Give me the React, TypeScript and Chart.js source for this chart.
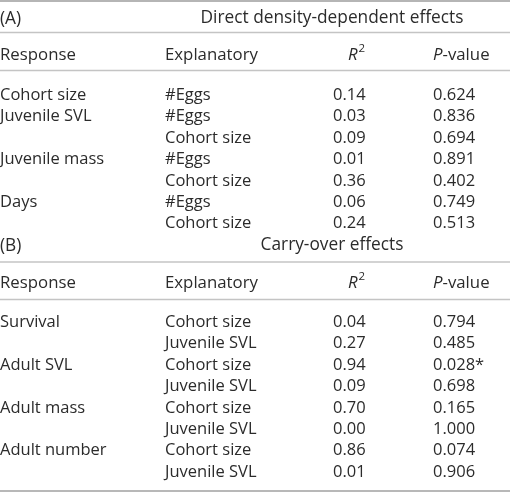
import React, { useEffect, useRef } from "react";
import { Chart, registerables } from "chart.js";

Chart.register(...registerables);

// ---- data ----
const panelLabels = ["(A)", "(B)"];
const panelTitles = ["Direct density-dependent effects", "Carry-over effects"];
const headerLabels = ["Response", "Explanatory", "R", "P"];

const responseA = ["Cohort size", "Juvenile SVL", "", "Juvenile mass", "", "Days", ""];
const explanatoryA = ["#Eggs", "#Eggs", "Cohort size", "#Eggs", "Cohort size", "#Eggs", "Cohort size"];
const r2A = [0.14, 0.03, 0.09, 0.01, 0.36, 0.06, 0.24];
const pA = [0.624, 0.836, 0.694, 0.891, 0.402, 0.749, 0.513];

const responseB = ["Survival", "", "Adult SVL", "", "Adult mass", "", "Adult number", ""];
const explanatoryB = ["Cohort size", "Juvenile SVL", "Cohort size", "Juvenile SVL", "Cohort size", "Juvenile SVL", "Cohort size", "Juvenile SVL"];
const r2B = [0.04, 0.27, 0.94, 0.09, 0.70, 0.00, 0.86, 0.01];
const pB = [0.794, 0.485, 0.028, 0.698, 0.165, 1.0, 0.074, 0.906];

// ---- layout (scale units) ----
const COL_X = { resp: 0, expl: 165, r2: 333, r2h: 348, p: 433, title: 332 };
const PITCH = 21.45;
const PANEL_A = { top: 1, title: 18.5, line1: 32.5, header: 55, line2: 70.5, rows: 95 };
const PANEL_B = { title: 245.2, line1: 262, header: 283, line2: 299.5, rows: 322 };
const BOTTOM = 491;

const FONT = '"Open Sans", "Noto Sans", sans-serif';
const BODY_SIZE = 16.5;
const HEAD_SIZE = 16.8;
const TITLE_SIZE = 17.3;
const TEXT = "#2b2b2b";

type Cell = { x: number; y: number; text: string; kind: string };

function buildCells(): { cells: Cell[]; rules: { y: number; c: string; w: number }[] } {
  const cells: Cell[] = [];
  const rules: { y: number; c: string; w: number }[] = [];
  const panels = [
    { lay: PANEL_A, resp: responseA, expl: explanatoryA, r2: r2A, p: pA },
    { lay: PANEL_B, resp: responseB, expl: explanatoryB, r2: r2B, p: pB },
  ];
  panels.forEach((pn, i) => {
    const L = pn.lay as any;
    if (L.top !== undefined) rules.push({ y: L.top, c: "#b5b5b5", w: 2 });
    cells.push({ x: COL_X.resp, y: L.title, text: panelLabels[i], kind: "titleleft" });
    cells.push({ x: COL_X.title, y: L.title, text: panelTitles[i], kind: "center" });
    rules.push({ y: L.line1, c: "#c4c4c4", w: 1.5 });
    cells.push({ x: COL_X.resp, y: L.header, text: headerLabels[0], kind: "headleft" });
    cells.push({ x: COL_X.expl, y: L.header, text: headerLabels[1], kind: "headleft" });
    cells.push({ x: COL_X.r2h, y: L.header, text: headerLabels[2], kind: "r2" });
    cells.push({ x: COL_X.p, y: L.header, text: headerLabels[3], kind: "pval" });
    rules.push({ y: L.line2, c: "#c4c4c4", w: 1.5 });
    pn.expl.forEach((e, k) => {
      const y = L.rows + k * PITCH;
      if (pn.resp[k]) cells.push({ x: COL_X.resp, y, text: pn.resp[k], kind: "left" });
      cells.push({ x: COL_X.expl, y, text: e, kind: "left" });
      cells.push({ x: COL_X.r2, y, text: pn.r2[k].toFixed(2), kind: "left" });
      cells.push({ x: COL_X.p, y, text: pn.p[k].toFixed(3) + (pn.p[k] < 0.05 ? "*" : ""), kind: "left" });
    });
  });
  rules.push({ y: BOTTOM, c: "#a0a0a0", w: 1.5 });
  return { cells, rules };
}

const tablePlugin = {
  id: "tableText",
  afterDatasetsDraw(chart: any) {
    const ctx = chart.ctx as CanvasRenderingContext2D;
    const xs = chart.scales.x;
    const ys = chart.scales.y;
    const rules = chart.options.plugins.tableText.rules as { y: number; c: string; w: number }[];
    ctx.save();
    rules.forEach((r) => {
      const py = ys.getPixelForValue(r.y);
      ctx.strokeStyle = r.c;
      ctx.lineWidth = r.w;
      ctx.beginPath();
      ctx.moveTo(xs.getPixelForValue(0), py);
      ctx.lineTo(xs.getPixelForValue(510), py);
      ctx.stroke();
    });
    const meta = chart.getDatasetMeta(0);
    const ds = chart.data.datasets[0];
    ctx.fillStyle = TEXT;
    ctx.textBaseline = "middle";
    meta.data.forEach((el: any, i: number) => {
      const raw = ds.data[i] as Cell;
      const x = el.x;
      const y = el.y;
      if (raw.kind === "center") {
        ctx.font = `${TITLE_SIZE}px ${FONT}`;
        ctx.textAlign = "center";
        ctx.fillText(raw.text, x, y);
      } else if (raw.kind === "r2") {
        ctx.textAlign = "left";
        ctx.font = `italic ${HEAD_SIZE}px ${FONT}`;
        ctx.fillText(raw.text, x, y);
        const w = ctx.measureText(raw.text).width;
        ctx.font = `11.5px ${FONT}`;
        ctx.fillText("2", x + w + 1, y - 6);
      } else if (raw.kind === "pval") {
        ctx.textAlign = "left";
        ctx.font = `italic ${HEAD_SIZE}px ${FONT}`;
        ctx.fillText(raw.text, x, y);
        const w = ctx.measureText(raw.text).width;
        ctx.font = `${HEAD_SIZE}px ${FONT}`;
        ctx.fillText("-value", x + w, y);
      } else if (raw.kind === "headleft") {
        ctx.font = `${HEAD_SIZE}px ${FONT}`;
        ctx.textAlign = "left";
        ctx.fillText(raw.text, x, y);
      } else if (raw.kind === "titleleft") {
        ctx.font = `${TITLE_SIZE}px ${FONT}`;
        ctx.textAlign = "left";
        ctx.fillText(raw.text, x, y + 1);
      } else {
        ctx.font = `${BODY_SIZE}px ${FONT}`;
        ctx.textAlign = "left";
        ctx.fillText(raw.text, x, y);
      }
    });
    ctx.restore();
  },
};

export default function App() {
  const ref = useRef<HTMLCanvasElement | null>(null);
  useEffect(() => {
    document.body.style.margin = "0";
    const { cells, rules } = buildCells();
    const chart = new Chart(ref.current as HTMLCanvasElement, {
      type: "scatter",
      data: {
        datasets: [
          {
            data: cells as any,
            pointRadius: 0,
            pointHoverRadius: 0,
            parsing: { xAxisKey: "x", yAxisKey: "y" } as any,
          },
        ],
      },
      options: {
        responsive: false,
        maintainAspectRatio: false,
        animation: false,
        events: [],
        layout: { padding: 0 },
        scales: {
          x: { type: "linear", min: 0, max: 510, display: false },
          y: { type: "linear", min: 0, max: 494, reverse: true, display: false },
        },
        plugins: {
          legend: { display: false },
          tooltip: { enabled: false },
          tableText: { rules } as any,
        } as any,
      },
      plugins: [tablePlugin],
    });
    return () => chart.destroy();
  }, []);
  return (
    <div style={{ width: 510, height: 494, background: "#fff" }}>
      <canvas ref={ref} width={510} height={494} style={{ display: "block", width: 510, height: 494 }} />
    </div>
  );
}
